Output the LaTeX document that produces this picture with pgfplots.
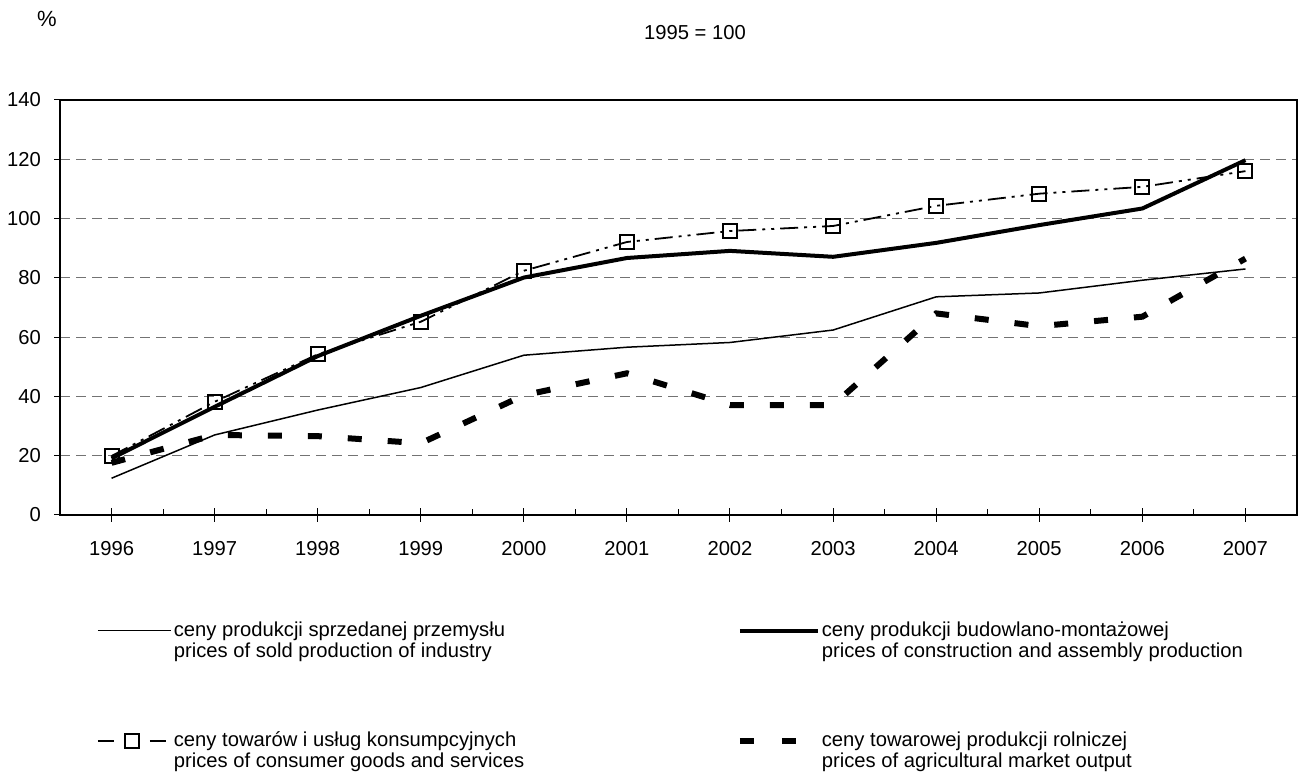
\documentclass[border=0pt]{standalone}
\usepackage{fontspec}
\setmainfont{Liberation Sans}
\usepackage{pgfplots}
\usepackage{pgfplotstable}
\pgfplotsset{compat=1.18}

% indices, 1995 = 100
\pgfplotstableread{
year ind bud kons rol
1996 12.4 19.1 19.9 17.6
1997 27.0 36.5 38.2 27.0
1998 35.4 53.6 54.2 26.6
1999 43.0 67.2 65.2 24.2
2000 53.9 80.1 82.4 40.4
2001 56.6 86.7 92.1 47.8
2002 58.2 89.1 95.8 37.1
2003 62.4 87.1 97.5 37.1
2004 73.6 91.8 104.3 68.0
2005 74.9 97.8 108.4 63.7
2006 79.2 103.4 110.7 66.9
2007 83.0 119.7 116.0 86.5
}\data

\newcommand{\entry}[3]{\parbox[t]{#1}{\strut #2\\\strut #3}}

\pgfplotsset{
  leg ind/.style={legend image code/.code={\draw[##1] (0pt,3pt) -- (36.5pt,3pt); \path (37.5pt,0pt);}},
  leg bud/.style={legend image code/.code={\draw[##1] (0pt,3pt) -- (39pt,3pt); \path (39.5pt,0pt);}},
  leg kons/.style={legend image code/.code={
    \draw[##1, solid, line width=1pt] (0pt,3pt) -- (8pt,3pt);
    \draw[##1, solid, line width=1pt] (26pt,3pt) -- (34pt,3pt);
    \draw[##1, solid] plot coordinates {(17pt,3pt)};
    \path (37.5pt,0pt);}},
  leg rol/.style={legend image code/.code={
    \draw[##1, solid] (0pt,3pt) -- (7pt,3pt);
    \draw[##1, solid] (21pt,3pt) -- (28pt,3pt);
    \path (39.5pt,0pt);}},
}

\begin{document}
\begin{tikzpicture}[font=\fontsize{10.1}{10.5}\selectfont]
\useasboundingbox (-30pt,-132.5pt) rectangle (620.5pt,257.5pt);
\begin{axis}[
  at={(0,0)}, anchor=south west,
  scale only axis, width=618.5pt, height=207.5pt,
  xmin=1995.5, xmax=2007.5, ymin=0, ymax=140,
  ytick={0,20,...,140},
  xtick={1996.5,1997.5,...,2006.5}, xticklabels={},
  extra x ticks={1996,1997,...,2007},
  extra x tick style={tick align=center, major tick length=7pt},
  xtick align=inside, ytick align=outside,
  xtick pos=bottom, ytick pos=left,
  major tick length=3pt,
  tick style={black, line width=0.5pt},
  /pgf/number format/1000 sep={},
  /pgf/number format/assume math mode=true,
  xticklabel style={yshift=-6pt},
  yticklabel style={xshift=-3pt},
  axis line style={line width=0.6pt},
  ymajorgrids,
  grid style={black!55, line width=0.5pt, dash pattern=on 5pt off 3pt},
  title={1995 = 100},
  title style={at={(axis description cs:0.5133,1.1325)}, anchor=center},
  ylabel={\%},
  ylabel style={rotate=-90, at={(axis description cs:-0.0105,1.1952)}, anchor=center, font=\fontsize{11}{13}\selectfont},
  legend columns=2,
  legend style={at={(axis description cs:0.0299,-0.2578)}, anchor=north west,
    draw=none, fill=none, inner sep=0pt, outer sep=0pt,
    row sep=46pt, column sep=0pt,
    cells={anchor=base west}, nodes={inner sep=0pt}},
]
\addplot[black, line width=0.75pt, leg ind]
  table[x=year, y=ind] {\data};
\addlegendentry{\entry{281.5pt}{ceny produkcji sprzedanej przemysłu}{prices of sold production of industry}}
\addplot[black, line width=2pt, leg bud]
  table[x=year, y=bud] {\data};
\addlegendentry{\entry{230pt}{ceny produkcji budowlano-montażowej}{prices of construction and assembly production}}
\addplot[black, line width=0.9pt,
  dash pattern=on 9pt off 3pt on 1.5pt off 3pt on 1.5pt off 3pt,
  mark=square, mark size=3.5pt, mark options={solid, line width=1pt}, leg kons]
  table[x=year, y=kons] {\data};
\addlegendentry{\entry{281.5pt}{ceny towarów i usług konsumpcyjnych}{prices of consumer goods and services}}
\addplot[black, line width=3pt, dash pattern=on 7pt off 13pt, leg rol]
  table[x=year, y=rol] {\data};
\addlegendentry{\entry{230pt}{ceny towarowej produkcji rolniczej}{prices of agricultural market output}}
\end{axis}
\end{tikzpicture}
\end{document}
